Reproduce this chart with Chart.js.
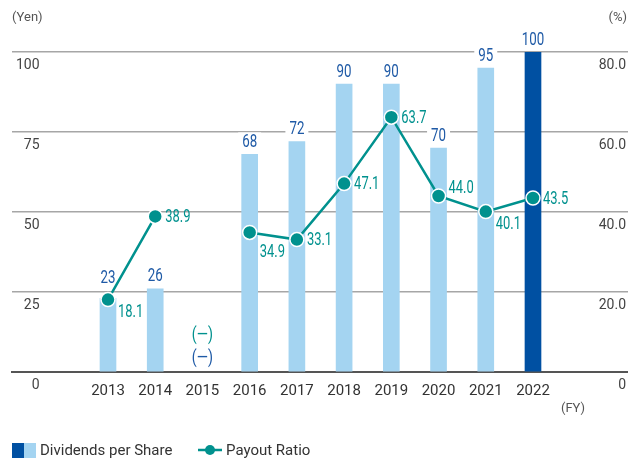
<!DOCTYPE html>
<html>
<head>
<meta charset="utf-8">
<script src="https://cdn.jsdelivr.net/npm/chart.js@4/dist/chart.umd.min.js"></script>
<style>
html,body{margin:0;padding:0;background:#fff;}
#wrap{width:628px;height:459px;position:relative;}
</style>
</head>
<body>
<div id="wrap"><canvas id="c" width="628" height="459"></canvas></div>
<script>
const categories = ['2013','2014','2015','2016','2017','2018','2019','2020','2021','2022'];
const dividends = [23, 26, null, 68, 72, 90, 90, 70, 95, 100];
const payoutRatio = [18.1, 38.9, null, 34.9, 33.1, 47.1, 63.7, 44.0, 40.1, 43.5];
const leftTicks = [0, 25, 50, 75, 100];
const rightTicks = [0, 20, 40, 60, 80];
const payoutLabelSide = ['below','right',null,'below','right','right','right','above','below','right'];
const barLabelLift = [21,13,13,13,13,13,13,13,13,13];

const LIGHT = '#a4d4f1', DARK = '#0050a2', TEAL = '#00918e', BLUE_TXT = '#1f5aa6';
const TXT_FONT = 'Roboto, "Liberation Sans", sans-serif';

const xs = categories.map(Number);

function narrowText(ctx, text, x, y, align, sx) {
  const w = ctx.measureText(text).width * sx;
  let left = x;
  if (align === 'center') left = x - w / 2;
  else if (align === 'right') left = x - w;
  ctx.save();
  ctx.translate(left, y);
  ctx.scale(sx, 1);
  ctx.textAlign = 'left';
  ctx.fillText(text, 0, 0);
  ctx.restore();
  return w;
}

const labelPlugin = {
  id: 'labels',
  afterDatasetDraw(chart, args) {
    const ctx = chart.ctx;
    if (args.index === 0) {
      const meta = chart.getDatasetMeta(0);
      ctx.save();
      ctx.font = '18px ' + TXT_FONT;
      ctx.textBaseline = 'middle';
      meta.data.forEach((el, i) => {
        if (dividends[i] == null) return;
        const t = String(dividends[i]);
        const y = el.y - barLabelLift[i];
        const w = ctx.measureText(t).width * 0.74 + 8;
        ctx.fillStyle = '#fff';
        ctx.fillRect(el.x - w / 2, y - 9, w, 18);
        ctx.fillStyle = BLUE_TXT;
        narrowText(ctx, t, el.x, y + 1, 'center', 0.74);
      });
      ctx.restore();
    }
    if (args.index === 1) {
      const meta = chart.getDatasetMeta(1);
      ctx.save();
      ctx.font = '18px ' + TXT_FONT;
      ctx.textBaseline = 'middle';
      ctx.fillStyle = TEAL;
      meta.data.forEach((el, i) => {
        if (payoutRatio[i] == null) return;
        const side = payoutLabelSide[i];
        let dy = 0;
        if (side === 'below') dy = (i === 3 ? 19 : 12);
        if (side === 'above') dy = -9;
        narrowText(ctx, payoutRatio[i].toFixed(1), el.x + 10, el.y + dy + 1, 'left', 0.72);
      });
      const xi = chart.scales.x.getPixelForValue(2015);
      const bottom = chart.chartArea.bottom;
      ctx.fillStyle = TEAL;
      narrowText(ctx, '(\u2014)', xi, bottom - 37, 'center', 0.8);
      ctx.fillStyle = BLUE_TXT;
      narrowText(ctx, '(\u2014)', xi, bottom - 14, 'center', 0.8);
      ctx.restore();
    }
  },
  afterDraw(chart) {
    const ctx = chart.ctx;
    ctx.save();
    ctx.font = '13px ' + TXT_FONT;
    ctx.fillStyle = '#555';
    ctx.textBaseline = 'middle';
    ctx.textAlign = 'left';
    ctx.fillText('(Yen)', 12, 18);
    ctx.textAlign = 'right';
    ctx.fillText('(%)', 627, 18);
    ctx.textAlign = 'center';
    ctx.fillText('(FY)', 573, 409);
    const ly = 450;
    ctx.fillStyle = DARK;
    ctx.fillRect(12, ly - 7, 12, 15);
    ctx.fillStyle = LIGHT;
    ctx.fillRect(24, ly - 7, 12, 15);
    ctx.font = '15px ' + TXT_FONT;
    ctx.fillStyle = '#333';
    ctx.textAlign = 'left';
    ctx.fillText('Dividends per Share', 40, ly + 1);
    ctx.strokeStyle = TEAL;
    ctx.lineWidth = 2.5;
    ctx.beginPath();
    ctx.moveTo(198, ly); ctx.lineTo(222, ly); ctx.stroke();
    ctx.fillStyle = TEAL;
    ctx.beginPath();
    ctx.arc(210, ly, 5, 0, Math.PI * 2); ctx.fill();
    ctx.fillStyle = '#333';
    ctx.fillText('Payout Ratio', 226, ly + 1);
    ctx.restore();
  }
};

new Chart(document.getElementById('c'), {
  data: {
    datasets: [
      {
        type: 'bar',
        label: 'Dividends per Share',
        data: xs.map((x, i) => ({ x, y: dividends[i] })),
        backgroundColor: xs.map((x, i) => i === xs.length - 1 ? DARK : LIGHT),
        barThickness: 16,
        yAxisID: 'y',
        order: 1
      },
      {
        type: 'line',
        label: 'Payout Ratio',
        data: xs.map((x, i) => ({ x, y: payoutRatio[i] })),
        borderColor: TEAL,
        borderWidth: 2.5,
        pointBackgroundColor: TEAL,
        pointBorderColor: '#fff',
        pointBorderWidth: 1.5,
        pointRadius: 7,
        spanGaps: false,
        tension: 0,
        clip: false,
        yAxisID: 'y2',
        order: 0
      }
    ]
  },
  options: {
    responsive: false,
    animation: false,
    devicePixelRatio: 1,
    layout: { autoPadding: false, padding: { top: 52, left: 12, right: 0, bottom: 59 } },
    plugins: { legend: { display: false }, tooltip: { enabled: false } },
    scales: {
      x: {
        type: 'linear',
        offset: false,
        min: 2010.967,
        max: 2024.012,
        afterBuildTicks: s => { s.ticks = xs.map(v => ({ value: v })); },
        afterFit: s => { s.height = 28; s.paddingLeft = 0; s.paddingRight = 0; },
        grid: { display: false, drawTicks: false, offset: false },
        border: { display: true, color: '#555', width: 2 },
        ticks: {
          autoSkip: false, maxRotation: 0, padding: 10,
          color: '#333', font: { family: TXT_FONT, size: 15 },
          callback: v => String(v)
        }
      },
      y: {
        position: 'left',
        min: 0, max: 100,
        afterBuildTicks: s => { s.ticks = leftTicks.map(v => ({ value: v })); },
        afterFit: s => { s.width = 0; },
        grid: {
          drawTicks: false, lineWidth: 1.5,
          color: c => c.tick && c.tick.value === 0 ? 'rgba(0,0,0,0)' : '#a6a6a6'
        },
        border: { display: false },
        ticks: {
          mirror: true, crossAlign: 'far', padding: 4, labelOffset: 13,
          color: '#444', font: { family: TXT_FONT, size: 14 },
          callback: v => String(v)
        }
      },
      y2: {
        position: 'right',
        min: 0, max: 80,
        afterBuildTicks: s => { s.ticks = rightTicks.map(v => ({ value: v })); },
        afterFit: s => { s.width = 0; },
        grid: { display: false, drawTicks: false },
        border: { display: false },
        ticks: {
          mirror: true, crossAlign: 'near', padding: -2, labelOffset: 13,
          color: '#444', font: { family: TXT_FONT, size: 14 },
          callback: v => v === 0 ? '0' : v.toFixed(1)
        }
      }
    }
  },
  plugins: [labelPlugin]
});
</script>
</body>
</html>
